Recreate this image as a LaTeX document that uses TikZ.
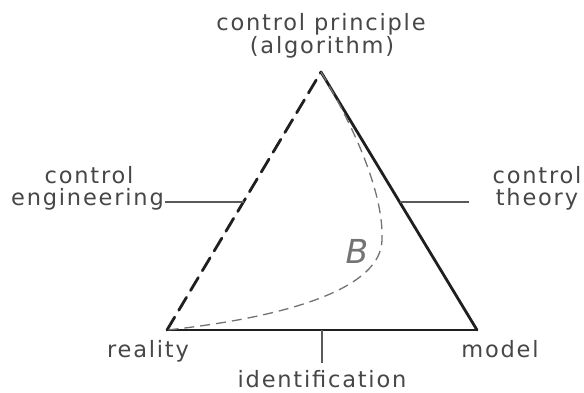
\documentclass[tikz,border=0pt]{standalone}
\usepackage{fontspec}
\setmainfont{DejaVu Sans}
\newfontfamily\lblfont[LetterSpace=8]{DejaVu Sans}
\begin{document}
\begin{tikzpicture}[x=1pt,y=-1pt,
  lbl/.style={inner sep=0pt,anchor=base,text=black!72,font=\lblfont\fontsize{22.5}{22}\selectfont},
  edge/.style={line width=2.8pt,draw=black!88,line cap=round,line join=miter},
  tick/.style={line width=1.3pt,draw=black!65},
  bcurve/.style={line width=1.3pt,draw=black!55,dash pattern=on 10pt off 6pt}]
\useasboundingbox (0,0) rectangle (584,393);
\fill[white] (0,0) rectangle (584,393);
% vertices
\coordinate (A) at (321,72);
\coordinate (L) at (167,330);
\coordinate (R) at (477,330);
% tick ends
\coordinate (tl) at (244,202);
\coordinate (tr) at (400,202);
\coordinate (tb) at (322,330);
\coordinate (tlEnd) at (165,202);
\coordinate (trEnd) at (469,202);
\coordinate (tbEnd) at (322,363);
% triangle
\draw[edge,dash pattern=on 15pt off 8pt] (L) -- (A);
\draw[edge] (A) -- (R);
\draw[edge,line width=2.4pt] (L) -- (R);
% curve B
\draw[bcurve] (A) .. controls (350,120) and (384,190) .. (382,240)
  .. controls (381,295) and (262,320) .. (L);
\node[inner sep=0pt,anchor=base,text=black!55,font=\fontsize{33}{33}\selectfont\itshape] (B) at (357,263) {B};
% labels
\node[lbl] (cp1) at (321,30.5) {control principle};
\node[lbl] (cp2) at (322,53.5) {(algorithm)};
\node[lbl] (ce1) at (89,183) {control};
\node[lbl,anchor=base east] (ce2) at (164,205) {engineering};
\node[lbl] (ct1) at (537,183) {control};
\node[lbl] (ct2) at (537,205) {theory};
\node[lbl] (re) at (148,357) {reality};
\node[lbl] (mo) at (500,357) {model};
\node[lbl] (id) at (322,387) {identification};
% ticks
\draw[tick] (tlEnd) -- (tl);
\draw[tick] (tr) -- (trEnd);
\draw[tick] (tb) -- (tbEnd);
\end{tikzpicture}
\end{document}
